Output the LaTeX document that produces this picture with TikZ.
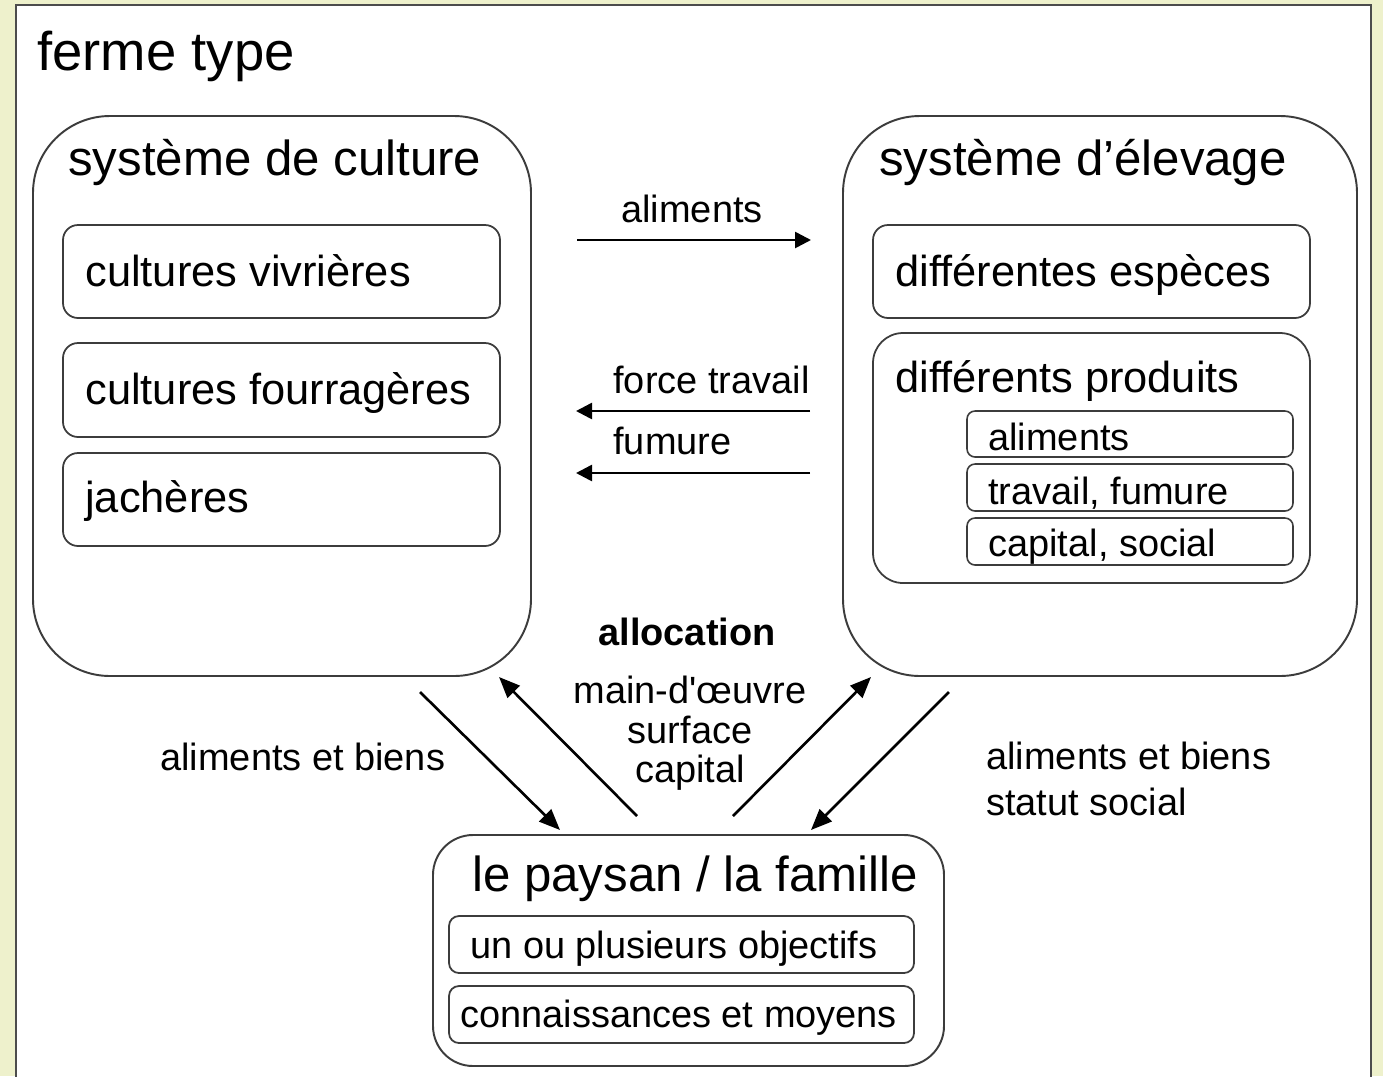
\documentclass[tikz,border=0pt]{standalone}
\usepackage{fontspec}
\setmainfont{Liberation Sans}
\usetikzlibrary{fit,arrows.meta}
\definecolor{fondvert}{RGB}{238,241,204}
\definecolor{trait}{RGB}{60,60,60}
\newcommand\sztitre{\fontsize{31}{37}\selectfont}
\newcommand\szbox{\fontsize{28}{33}\selectfont}
\newcommand\szitem{\fontsize{24.7}{29}\selectfont}
\newcommand\szpetit{\fontsize{21.6}{22.4}\selectfont}

\begin{document}
\begin{tikzpicture}[x=0.02cm, y=-0.02cm,
    bigbox/.style={draw=trait, line width=1.1pt, rounded corners=1.54cm, inner sep=0pt},
    itembox/.style={draw=trait, line width=1pt, rounded corners=0.3cm, inner sep=0pt},
    subbox/.style={draw=trait, line width=0.9pt, rounded corners=0.16cm, inner sep=0pt},
    txt/.style={inner sep=0pt, anchor=base west},
    arr/.style={-{Triangle[length=0.32cm, width=0.32cm]}, line width=1.5pt},
    diag/.style={-{Triangle[length=0.42cm, width=0.34cm]}, line width=1.5pt},
  ]
  \useasboundingbox (0,0) rectangle (1383,1076);
  \fill[fondvert] (0,0) rectangle (1383,1076);
  \draw[draw=gray!60!black, line width=1.4pt, fill=white] (16,5) rectangle (1371,1110);
  \node[txt, font=\sztitre] (titre) at (37,70) {ferme type};

  % systeme de culture
  \node[bigbox, fit={(33,116) (531,676)}] (culture) {};
  \node[txt, font=\szbox] (tculture) at (68,175) {système de culture};
  \node[itembox, fit={(63,225) (500,318)}] (viv) {};
  \node[txt, font=\szitem] (tviv) at (85,286) {cultures vivrières};
  \node[itembox, fit={(63,343) (500,437)}] (fou) {};
  \node[txt, font=\szitem] (tfou) at (85,404) {cultures fourragères};
  \node[itembox, fit={(63,453) (500,546)}] (jac) {};
  \node[txt, font=\szitem] (tjac) at (85,512) {jachères};

  % systeme d'elevage
  \node[bigbox, fit={(843,116) (1357,676)}] (elevage) {};
  \node[txt, font=\szbox] (televage) at (879,175) {système d’élevage};
  \node[itembox, fit={(873,225) (1310,318)}] (esp) {};
  \node[txt, font=\szitem] (tesp) at (895,286) {différentes espèces};
  \node[itembox, rounded corners=0.6cm, fit={(873,333) (1310,583)}] (prod) {};
  \node[txt, font=\szitem] (tprod) at (895,392) {différents produits};
  \node[subbox, fit={(967,411) (1293,457)}] (palim) {};
  \node[txt, font=\szpetit] (tpalim) at (988,450) {aliments};
  \node[subbox, fit={(967,464) (1293,511)}] (ptrav) {};
  \node[txt, font=\szpetit] (tptrav) at (988,504) {travail, fumure};
  \node[subbox, fit={(967,518) (1293,565)}] (pcap) {};
  \node[txt, font=\szpetit] (tpcap) at (988,556) {capital, social};

  % paysan
  \node[bigbox, rounded corners=0.8cm, fit={(433,835) (944,1066)}] (paysan) {};
  \node[txt, font=\szbox] (tpaysan) at (472,891) {le paysan / la famille};
  \node[itembox, rounded corners=0.2cm, fit={(449,916) (914,973)}] (obj) {};
  \node[txt, font=\szpetit] (tobj) at (470,958) {un ou plusieurs objectifs};
  \node[itembox, rounded corners=0.2cm, fit={(449,986) (914,1043)}] (moy) {};
  \node[txt, font=\szpetit] (tmoy) at (460,1027) {connaissances et moyens};

  % flux entre les systemes
  \node[inner sep=0pt, anchor=base, font=\szpetit] (lalim) at (692,222) {aliments};
  \node[txt, font=\szpetit] (lforce) at (613,393) {force travail};
  \node[txt, font=\szpetit] (lfum) at (613,454) {fumure};
  \coordinate (alimA) at (577,240);  \coordinate (alimB) at (811,240);
  \coordinate (forceA) at (810,411); \coordinate (forceB) at (576,411);
  \coordinate (fumA) at (810,473);   \coordinate (fumB) at (576,473);
  \draw[arr] (alimA) -- (alimB);
  \draw[arr] (forceA) -- (forceB);
  \draw[arr] (fumA) -- (fumB);

  % allocation
  \node[inner sep=0pt, anchor=base, font=\szpetit\bfseries] (lalloc) at (687,645) {allocation};
  \node[inner sep=0pt, anchor=north, align=center, font=\szpetit] (lres) at (690,676)
    {main-d\textquotesingle œuvre\\surface\\capital};
  \node[txt, font=\szpetit] (lgauche) at (160,770) {aliments et biens};
  \node[inner sep=0pt, anchor=north west, align=left, font=\fontsize{21.6}{26}\selectfont] (ldroite) at (986,742)
    {aliments et biens\\statut social};
  \coordinate (gA) at (420,692); \coordinate (gB) at (560,830);
  \coordinate (hA) at (637,816); \coordinate (hB) at (499,677);
  \coordinate (iA) at (733,816); \coordinate (iB) at (871,677);
  \coordinate (jA) at (949,692); \coordinate (jB) at (811,830);
  \draw[diag] (gA) -- (gB);
  \draw[diag] (hA) -- (hB);
  \draw[diag] (iA) -- (iB);
  \draw[diag] (jA) -- (jB);
\end{tikzpicture}
\end{document}
